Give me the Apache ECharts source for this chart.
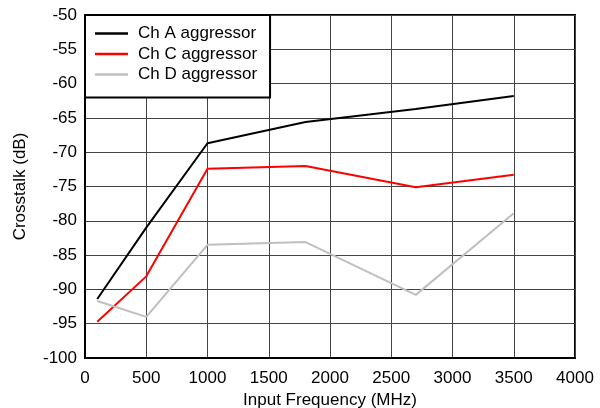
<!DOCTYPE html>
<html><head><meta charset="utf-8">
<script src="https://cdn.jsdelivr.net/npm/echarts@6/dist/echarts.min.js"></script>
<style>html,body{margin:0;padding:0;background:#fff}#c{width:600px;height:408px}</style>
</head><body><div id="c"></div>
<script>
const freqs = [100, 500, 1000, 1800, 2700, 3500];
const chA = [-91.4, -81.0, -68.7, -65.6, -63.7, -61.8];
const chC = [-94.7, -88.1, -72.4, -72.0, -75.1, -73.3];
const chD = [-91.7, -94.0, -83.5, -83.1, -90.8, -78.9];
const seriesNames = ['Ch A aggressor', 'Ch C aggressor', 'Ch D aggressor'];
const colors = ['#000000', '#ff0000', '#bfbfbf'];
const xTitle = 'Input Frequency (MHz)';
const yTitle = 'Crosstalk (dB)';

const FONT = 'Liberation Sans, Arial, sans-serif';
const chart = echarts.init(document.getElementById('c'), null, {renderer: 'canvas'});
const pair = (ys) => freqs.map((f, i) => [f, ys[i]]);
const mk = (name, ys, color) => ({
  name, type: 'line', data: pair(ys), symbol: 'none', showSymbol: false,
  lineStyle: {color, width: 2}, itemStyle: {color}, z: 3
});
chart.setOption({
  animation: false,
  backgroundColor: '#fff',
  grid: {left: 85, right: 25, top: 15, bottom: 50, containLabel: false, outerBoundsMode: 'none',
         show: true, borderColor: '#000', borderWidth: 2, backgroundColor: 'transparent'},
  legend: {
    orient: 'vertical', left: 85, top: 15,
    data: seriesNames,
    icon: 'rect', itemWidth: 33, itemHeight: 2.5, itemGap: 3.5,
    padding: [10, 13, 14.5, 10],
    backgroundColor: '#fff', borderColor: '#000', borderWidth: 2, borderRadius: 0,
    textStyle: {fontFamily: FONT, fontSize: 17, color: '#000', padding: [0, 0, 0, 5]},
    z: 10
  },
  xAxis: {
    type: 'value', min: 0, max: 4000, interval: 500,
    name: xTitle, nameLocation: 'middle', nameGap: 24,
    nameTextStyle: {fontFamily: FONT, fontSize: 17, color: '#000'},
    axisLine: {show: true, lineStyle: {color: '#000', width: 2}},
    axisTick: {show: false},
    axisLabel: {fontFamily: FONT, fontSize: 17, color: '#000', margin: 12, formatter: (v) => String(v)},
    splitLine: {show: true, lineStyle: {color: '#444', width: 1}}
  },
  yAxis: {
    type: 'value', min: -100, max: -50, interval: 5,
    name: yTitle, nameLocation: 'middle', nameGap: 56, nameRotate: 90,
    nameTextStyle: {fontFamily: FONT, fontSize: 17, color: '#000'},
    axisLine: {show: true, lineStyle: {color: '#000', width: 2}},
    axisTick: {show: false},
    axisLabel: {fontFamily: FONT, fontSize: 17, color: '#000', margin: 8},
    splitLine: {show: true, lineStyle: {color: '#444', width: 1}}
  },
  series: [mk(seriesNames[0], chA, colors[0]), mk(seriesNames[1], chC, colors[1]), mk(seriesNames[2], chD, colors[2])]
});
</script></body></html>
